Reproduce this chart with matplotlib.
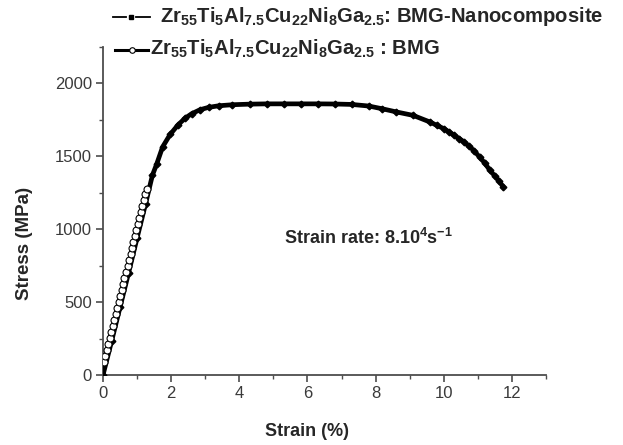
import matplotlib
matplotlib.use("Agg")
import matplotlib.pyplot as plt
from matplotlib.ticker import MultipleLocator

plt.rcParams['font.family'] = ['Liberation Sans', 'DejaVu Sans']
plt.rcParams['mathtext.fontset'] = 'custom'
plt.rcParams['mathtext.rm'] = 'Liberation Sans:bold'
plt.rcParams['mathtext.it'] = 'Liberation Sans:bold'
plt.rcParams['mathtext.bf'] = 'Liberation Sans:bold'
plt.rcParams['mathtext.sf'] = 'Liberation Sans:bold'

# ---- data ----
nano_strain = [0.0, 0.25, 0.5, 0.75, 1.0, 1.25, 1.45, 1.58, 1.75, 1.97, 2.2, 2.4,
               2.6, 2.85, 3.1, 3.4, 3.8, 4.3, 4.8, 5.3, 5.8, 6.3, 6.8, 7.3, 7.8,
               8.2, 8.6, 9.1, 9.6, 9.8, 10.0, 10.15, 10.3, 10.45, 10.6, 10.75,
               10.9, 11.05, 11.2, 11.35, 11.5, 11.62, 11.75]
nano_stress = [0, 230, 465, 700, 940, 1175, 1370, 1450, 1565, 1650, 1715, 1760,
               1792, 1820, 1836, 1847, 1854, 1858, 1860, 1860, 1860, 1860, 1859,
               1856, 1845, 1826, 1805, 1781, 1735, 1712, 1690, 1668, 1645, 1622,
               1598, 1568, 1536, 1495, 1455, 1405, 1365, 1330, 1290]

bmg_strain = [0.03, 0.07, 0.11, 0.16, 0.20, 0.24, 0.29, 0.33, 0.37, 0.42, 0.46,
              0.50, 0.55, 0.59, 0.63, 0.68, 0.72, 0.76, 0.81, 0.85, 0.89, 0.94,
              0.98, 1.02, 1.07, 1.11, 1.15, 1.20, 1.24, 1.28]
bmg_stress = [91, 132, 173, 214, 255, 296, 337, 378, 419, 460, 501, 542, 583, 624,
              665, 706, 747, 788, 829, 870, 911, 952, 993, 1034, 1075, 1116, 1157,
              1198, 1239, 1278]

x_ticks = [0, 2, 4, 6, 8, 10, 12]
y_ticks = [0, 500, 1000, 1500, 2000]

label_nano = r'$\mathrm{Zr_{55}Ti_{5}Al_{7.5}Cu_{22}Ni_{8}Ga_{2.5}}$: BMG-Nanocomposite'
label_bmg = r'$\mathrm{Zr_{55}Ti_{5}Al_{7.5}Cu_{22}Ni_{8}Ga_{2.5}}$ : BMG'
annot = r'Strain rate: 8.10$^{4}$s$^{-1}$'

TXT = '#262626'
SPN = '#4d4d4d'

fig = plt.figure(figsize=(6.23, 4.45), dpi=100)
ax = fig.add_axes([103/623, 70/445, 443/623, 328/445])

ax.plot(nano_strain, nano_stress, color='black', lw=3.4, marker='D', ms=3.4,
        mec='black', mfc='black', zorder=3)
ax.plot(bmg_strain, bmg_stress, color='black', lw=1.0, marker='o', ms=5.0,
        mfc='white', mec='black', mew=0.8, zorder=4)

ax.set_xlim(0, 13)
ax.set_ylim(0, 2250)
ax.set_xticks(x_ticks)
ax.set_yticks(y_ticks)
ax.xaxis.set_minor_locator(MultipleLocator(1))
ax.yaxis.set_minor_locator(MultipleLocator(250))

for s in ['top', 'right']:
    ax.spines[s].set_visible(False)
for s in ['left', 'bottom']:
    ax.spines[s].set_color(SPN)
    ax.spines[s].set_linewidth(1.3)

ax.tick_params(which='major', direction='out', length=5, width=1.2, color=SPN,
               labelsize=12, labelcolor='#3a3a3a', pad=3)
ax.tick_params(which='minor', direction='out', length=3, width=1.0, color=SPN)

ax.set_xlabel('Strain (%)', fontsize=13, fontweight='bold', color=TXT, labelpad=16)
ax.set_ylabel('Stress (MPa)', fontsize=13.5, fontweight='bold', color=TXT, labelpad=16)
ax.xaxis.label.set_x(6 / 13)
ax.yaxis.label.set_y(0.40)

ax.text(5.3, 940, annot, fontsize=13, fontweight='bold', color=TXT,
        va='center', ha='left')

# legend drawn manually in figure coordinates
def fx(px):
    return px / 623
def fy(py):
    return 1 - py / 445

def seg(x0, x1, y, lw):
    fig.lines.append(plt.Line2D([fx(x0), fx(x1)], [fy(y), fy(y)], transform=fig.transFigure,
                                color='black', lw=lw, figure=fig))

seg(113, 126, 17, 1.3)
seg(136, 150, 17, 1.3)
fig.lines.append(plt.Line2D([fx(131)], [fy(17)], transform=fig.transFigure,
                            color='black', marker='s', ms=2.8, lw=0, figure=fig))
fig.text(fx(160), fy(22), label_nano, fontsize=14.6, fontweight='bold', color=TXT,
         va='baseline', ha='left')

seg(115, 129, 50, 2.2)
seg(135, 148, 50, 2.2)
fig.lines.append(plt.Line2D([fx(132)], [fy(50)], transform=fig.transFigure,
                            color='black', marker='o', ms=4.0, mfc='white', mec='black',
                            mew=0.8, lw=0, figure=fig))
fig.text(fx(150), fy(55), label_bmg, fontsize=14.6, fontweight='bold', color=TXT,
         va='baseline', ha='left')

fig.savefig('out.png', dpi=100)
